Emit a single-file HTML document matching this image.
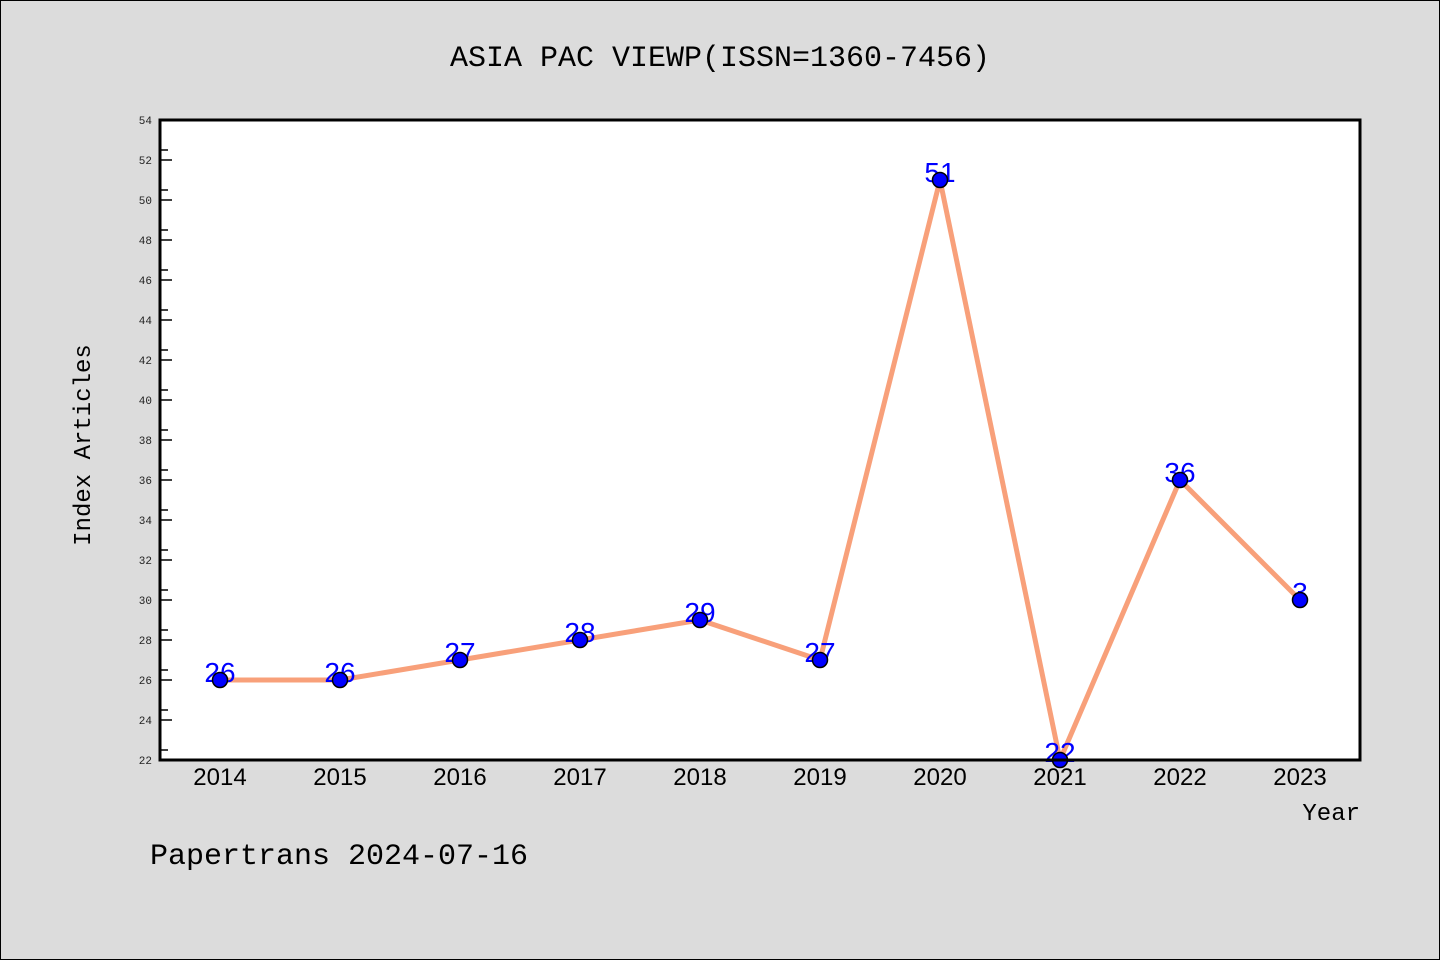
<!DOCTYPE html>
<html><head><meta charset="utf-8"><style>
body{margin:0;background:#dcdcdc;}
svg{display:block;font-family:"Liberation Mono","DejaVu Sans Mono",monospace;}
</style></head><body>
<svg id="c" width="1440" height="960">
<rect x="0.5" y="0.5" width="1439" height="959" fill="#dcdcdc" stroke="#000"/>
<text x="720" y="66" text-anchor="middle" font-size="30">ASIA PAC VIEWP(ISSN=1360-7456)</text>
<rect x="160" y="120" width="1200" height="640" fill="#fff"/>
<text transform="translate(90,445) rotate(-90)" text-anchor="middle" font-size="24">Index Articles</text>
<text x="1360" y="820" text-anchor="end" font-size="24">Year</text>
<text x="150" y="864" font-size="30">Papertrans 2024-07-16</text>
<g id="g"></g>
<rect x="160" y="120" width="1200" height="640" fill="none" stroke="#000" stroke-width="3"/>
</svg>
<script>
const years=["2014","2015","2016","2017","2018","2019","2020","2021","2022","2023"];
const values=[26,26,27,28,29,27,51,22,36,30];
const pointLabels=["26","26","27","28","29","27","51","22","36","3"];
const yTicks=[22,24,26,28,30,32,34,36,38,40,42,44,46,48,50,52,54];
const NS="http://www.w3.org/2000/svg",g=document.getElementById('g');
const xs=i=>220+i*120, ys=v=>760-(v-22)*20;
function mk(t,a){const e=document.createElementNS(NS,t);for(const k in a)e.setAttribute(k,a[k]);g.appendChild(e);return e;}
yTicks.forEach(v=>{
 const y=ys(v);
 const l=mk('line',{x1:160,x2:172,y1:y,y2:y,stroke:'#000','stroke-width':1.5});
 
 
 if(v<54){const m=mk('line',{x1:160,x2:168,y1:y-10,y2:y-10,stroke:'#000','stroke-width':1.5});
 
 }
 const t=mk('text',{x:152,y:y+4,'text-anchor':'end','font-size':11,fill:'#222'});t.textContent=v;
 
 
});
years.forEach((yr,i)=>{
 const t=mk('text',{x:xs(i),y:785,'text-anchor':'middle','font-size':24,'font-family':'Liberation Sans, sans-serif'});t.textContent=yr;
 
 
});
const pl=mk('polyline',{points:values.map((v,i)=>xs(i)+','+ys(v)).join(' '),fill:'none',stroke:'#f8a07a','stroke-width':5,'stroke-linejoin':'round'});


values.forEach((v,i)=>{
 const t=mk('text',{x:xs(i),y:ys(v)+2,'text-anchor':'middle','font-size':28,fill:'#0000ff','font-family':'Liberation Sans, sans-serif'});t.textContent=pointLabels[i];
 
 
 const c=mk('circle',{cx:xs(i),cy:ys(v),r:7.5,fill:'#0000ff',stroke:'#000','stroke-width':1.5});
 
 
});
</script>
</body></html>
